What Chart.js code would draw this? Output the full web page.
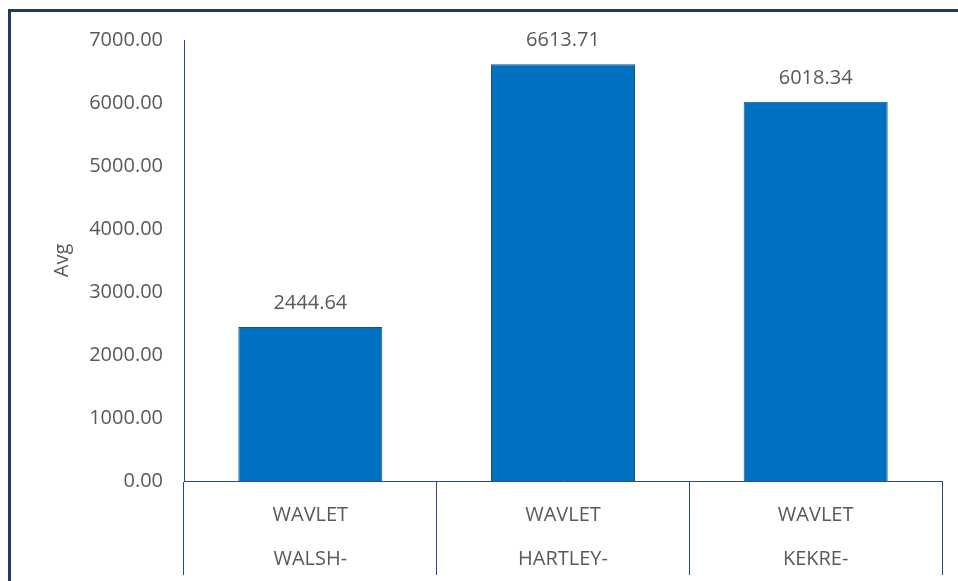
<!DOCTYPE html>
<html>
<head>
<meta charset="utf-8">
<script src="https://cdn.jsdelivr.net/npm/chart.js@4"></script>
<style>
  html, body { margin: 0; padding: 0; background: #fff; overflow: hidden; }
  #wrap { position: relative; width: 958px; height: 581px; overflow: hidden; }
  #frameTop { position: absolute; left: 8px; top: 9px; width: 950px; height: 3px; background: #1F3864; }
  #frameLeft { position: absolute; left: 8px; top: 9px; width: 3px; height: 572px; background: #1F3864; }
  canvas { position: absolute; left: 0; top: 0; }
</style>
</head>
<body>
<div id="wrap">
  <div id="frameTop"></div>
  <div id="frameLeft"></div>
  <canvas id="myBarChart" width="958" height="581"></canvas>
</div>
<script>
var categories = [
    ["WAVLET", "WALSH-"],
    ["WAVLET", "HARTLEY-"],
    ["WAVLET", "KEKRE-"]
];
var avgValues = [2444.64, 6613.71, 6018.34];
var yTicks = [0, 1000, 2000, 3000, 4000, 5000, 6000, 7000];

var textColor = "#595959";
var axisColor = "#2A4A8C";
var fontFamily = "'Open Sans', 'Liberation Sans', sans-serif";

// values on top of the bars
var barValueLabels = {
    id: "barValueLabels",
    afterDatasetsDraw: function(chart) {
        var c = chart.ctx;
        var meta = chart.getDatasetMeta(0);
        c.save();
        c.font = "20px " + fontFamily;
        c.fillStyle = textColor;
        c.textAlign = "center";
        c.textBaseline = "middle";
        meta.data.forEach(function(bar, i) {
            c.fillText(avgValues[i].toFixed(2), bar.x, bar.y - 24);
        });
        c.restore();
    }
};

var ctx = document.getElementById("myBarChart");
var myBarChart = new Chart(ctx, {
    type: "bar",
    data: {
        labels: categories,
        datasets: [{
            label: "Avg",
            data: avgValues,
            backgroundColor: "#0070C0",
            borderColor: "#1F4E79",
            borderWidth: 1,
            barPercentage: 0.57,
            categoryPercentage: 1.0
        }]
    },
    options: {
        responsive: false,
        animation: false,
        layout: { padding: { left: 50, top: 40, right: 16, bottom: 0 } },
        plugins: {
            legend: { display: false },
            tooltip: { enabled: false }
        },
        scales: {
            x: {
                offset: true,
                grid: {
                    offset: true,
                    drawOnChartArea: false,
                    drawTicks: true,
                    tickLength: 94,
                    color: axisColor,
                    lineWidth: 1
                },
                border: { display: true, color: axisColor, width: 1 },
                ticks: {
                    color: textColor,
                    font: { family: fontFamily, size: 20, lineHeight: 2.2 },
                    padding: -82,
                    maxRotation: 0,
                    autoSkip: false
                },
                afterFit: function(scale) { scale.height = 100; }
            },
            y: {
                min: 0,
                max: 7000,
                afterBuildTicks: function(scale) {
                    scale.ticks = yTicks.map(function(v) { return { value: v }; });
                },
                grid: { display: false, drawTicks: false },
                border: { display: true, color: axisColor, width: 1 },
                ticks: {
                    color: textColor,
                    font: { family: fontFamily, size: 20 },
                    padding: 21,
                    callback: function(v) { return Number(v).toFixed(2); }
                },
                title: {
                    display: true,
                    text: "Avg",
                    color: textColor,
                    font: { family: fontFamily, size: 20 },
                    padding: 0
                },
                afterFit: function(scale) { scale.width = 134; }
            }
        }
    },
    plugins: [barValueLabels]
});
</script>
</body>
</html>
